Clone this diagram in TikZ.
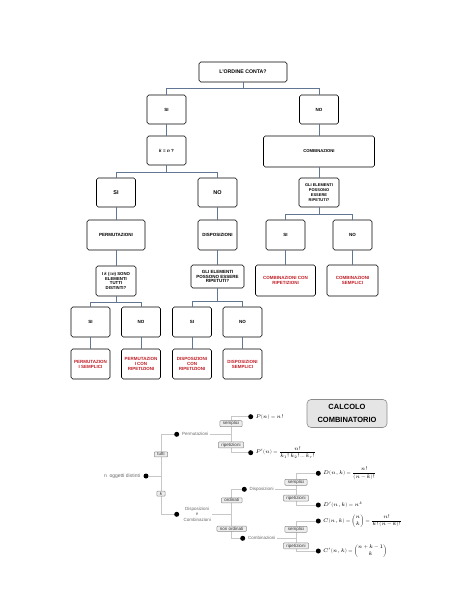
\documentclass[tikz,border=0pt]{standalone}
\usepackage{fontspec}
\usepackage{amsmath}
\usepackage{unicode-math}
\setmainfont{Liberation Sans}
\usepackage{xcolor}
\usepackage{tikz}
\usetikzlibrary{arrows.meta,positioning}
\definecolor{schemared}  {RGB}{192, 28,  36}
\definecolor{schemalink} {RGB}{ 96, 118, 146}
\definecolor{mapgray}    {RGB}{105, 105, 105}

\tikzset{
  box/.style={draw=black, line width=0.55pt, rounded corners=1.8pt, fill=white,
    align=center, inner sep=1pt, minimum width=39pt, minimum height=29pt,
    font=\fontsize{4.5}{4.9}\selectfont\bfseries},
  answer/.style={box, text=schemared},
  link/.style={draw=schemalink, line width=0.6pt},
  twig/.style={draw=black!22, line width=0.5pt},
  bullet/.style={circle, fill=black, inner sep=0pt, minimum size=5pt},
  tag/.style={draw=black!45, fill=black!7, rounded corners=0.8pt, inner xsep=3pt,
    inner ysep=0.9pt, font=\fontsize{4.5}{5}\selectfont, text=black!80},
  word/.style={font=\fontsize{4.5}{5.8}\selectfont, text=mapgray, inner sep=1pt},
  formula/.style={font=\fontsize{5.3}{6}\selectfont, inner sep=1pt},
  titlebox/.style={draw=black!45, fill=black!10, rounded corners=4pt, line width=0.6pt,
    minimum width=80pt, minimum height=28pt, align=center,
    font=\fontsize{7.5}{13}\selectfont\bfseries}
}

\begin{document}
\begin{tikzpicture}[x=1pt, y=-1pt]
      \useasboundingbox (0,0) rectangle (474,613);

      % albero delle domande
      \node[box, minimum width=88pt, minimum height=20pt, font=\fontsize{5.2}{6}\selectfont\bfseries] (ordine) at (243,72) {L'ORDINE CONTA?};
      \node[box] (si1) at (166.5,109.5) {SI};
      \node[box] (no1) at (319,109.5) {NO};
      \node[box] (kn) at (166.5,150.5) {\textit{k} = \textit{n} ?};
      \node[box, minimum width=111pt, minimum height=31pt, font=\fontsize{4.2}{5}\selectfont\bfseries] (comb) at (319,151.5) {COMBINAZIONI};
      \node[box, font=\fontsize{5.5}{6}\selectfont\bfseries] (si2) at (116,192.5) {SI};
      \node[box, font=\fontsize{5.5}{6}\selectfont\bfseries] (no2) at (217.5,192.5) {NO};
      \node[box, minimum width=40pt, font=\fontsize{4}{4.8}\selectfont\bfseries] (rip1) at (319,192.5) {GLI ELEMENTI\\POSSONO\\ESSERE\\RIPETUTI?};
      \node[box, minimum width=58pt, minimum height=30pt] (perm) at (116,235) {PERMUTAZIONI};
      \node[box, minimum height=30pt] (disp) at (217.5,235) {DISPOSIZIONI};
      \node[box, minimum height=30pt] (si3) at (285.5,235) {SI};
      \node[box, minimum height=30pt] (no3) at (352.5,235) {NO};
      \node[box, minimum width=40pt, minimum height=30pt, font=\fontsize{4.3}{4.8}\selectfont\bfseries] (distinti) at (116,281) {I \textit{k} (=\textit{n}) SONO\\ELEMENTI\\TUTTI\\DISTINTI?};
      \node[box, minimum width=53pt, minimum height=23pt, font=\fontsize{4.5}{4.8}\selectfont\bfseries] (rip2) at (217.5,276.5) {GLI ELEMENTI\\POSSONO ESSERE\\RIPETUTI?};
      \node[answer, minimum width=60pt, minimum height=31pt] (combrip) at (285.5,280.5) {COMBINAZIONI CON\\RIPETIZIONI};
      \node[answer, minimum width=51pt, minimum height=31pt] (combsem) at (352.5,280.5) {COMBINAZIONI\\SEMPLICI};
      \node[box, minimum height=30pt] (si4) at (90.5,322) {SI};
      \node[box, minimum height=30pt] (no4) at (141,322) {NO};
      \node[box, minimum height=30pt] (si5) at (192,322) {SI};
      \node[box, minimum height=30pt] (no5) at (242.5,322) {NO};
      \node[answer, minimum height=30pt] (permsem) at (90.5,364) {PERMUTAZION\\I SEMPLICI};
      \node[answer, minimum height=30pt] (permrip) at (141,364) {PERMUTAZION\\I CON\\RIPETIZIONI};
      \node[answer, minimum height=30pt] (disprip) at (192,364) {DISPOSIZIONI\\CON\\RIPETIZIONI};
      \node[answer, minimum height=30pt] (dispsem) at (242.5,364) {DISPOSIZIONI\\SEMPLICI};

      \draw[link] (ordine.south) -- ++(0,6) -| (si1.north);
      \draw[link] (ordine.south) -- ++(0,6) -| (no1.north);
      \draw[link] (si1) -- (kn);
      \draw[link] (no1) -- (comb);
      \draw[link] (kn.south) -- ++(0,7) -| (si2.north);
      \draw[link] (kn.south) -- ++(0,7) -| (no2.north);
      \draw[link] (comb) -- (rip1);
      \draw[link] (rip1.south) -- ++(0,7) -| (si3.north);
      \draw[link] (rip1.south) -- ++(0,7) -| (no3.north);
      \draw[link] (si2) -- (perm);
      \draw[link] (no2) -- (disp);
      \draw[link] (si3) -- (combrip);
      \draw[link] (no3) -- (combsem);
      \draw[link] (perm) -- (distinti);
      \draw[link] (disp) -- (rip2);
      \draw[link] (distinti.south) -- ++(0,6) -| (si4.north);
      \draw[link] (distinti.south) -- ++(0,6) -| (no4.north);
      \draw[link] (rip2.south) -- ++(0,13.5) -| (si5.north);
      \draw[link] (rip2.south) -- ++(0,13.5) -| (no5.north);
      \draw[link] (si4) -- (permsem);
      \draw[link] (no4) -- (permrip);
      \draw[link] (si5) -- (disprip);
      \draw[link] (no5) -- (dispsem);

      % mappa
      \node[titlebox] (calcolo) at (347,413.5) {CALCOLO\\COMBINATORIO};

      \node[bullet] (ndot) at (146,476) {};
      \node[word, left=2pt of ndot, font=\fontsize{5}{6}\selectfont] (ntxt) {n\enspace oggetti distinti};
      \coordinate (mainfork) at (161,476);
      \node[bullet] (permdot) at (176.7,434.3) {};
      \node[word, right=1.5pt of permdot] (permtxt) {Permutazioni};
      \node[bullet] (dcdot) at (176.7,514.3) {};
      \node[word, right=3pt of dcdot, align=center] (dctxt) {Disposizioni\\e\\Combinazioni};

      \coordinate (permfork) at (231,434.3);
      \node[bullet] (pdot) at (250.7,416.7) {};
      \node[formula, right=1pt of pdot] (pform) {$P(n)=n!$};
      \node[bullet] (ppdot) at (250.7,452.7) {};
      \node[formula, right=1pt of ppdot] (ppform) {$P'(n)=\dfrac{n!}{k_1!\,k_2!\dots k_r!}$};

      \coordinate (dcfork) at (231.7,514.3);
      \node[bullet] (dispdot) at (244.3,489.3) {};
      \node[word, right=1.5pt of dispdot] (disptxt) {Disposizioni};
      \node[bullet] (combdot) at (242.7,538.3) {};
      \node[word, right=1.5pt of combdot] (combtxt) {Combinazioni};

      \coordinate (dispfork) at (296,489.3);
      \coordinate (combfork) at (296,538.3);
      \node[bullet] (ddot) at (318.3,473.3) {};
      \node[formula, right=1pt of ddot] (dform) {$D(n,k)=\dfrac{n!}{(n-k)!}$};
      \node[bullet] (dpdot) at (318.3,505) {};
      \node[formula, right=1pt of dpdot] (dpform) {$D'(n,k)=n^k$};
      \node[bullet] (cdot) at (318.3,521) {};
      \node[formula, right=1pt of cdot] (cform) {$C(n,k)=\dbinom{n}{k}=\dfrac{n!}{k!\,(n-k)!}$};
      \node[bullet] (cpdot) at (318.3,551) {};
      \node[formula, right=1pt of cpdot] (cpform) {$C'(n,k)=\dbinom{n+k-1}{k}$};

      \draw[twig] (ndot) -- (mainfork);
      \draw[twig] (permdot) -| (mainfork) node[tag, pos=0.74] {tutti};
      \draw[twig] (dcdot) -| (mainfork) node[tag, pos=0.77] {\textit{k}};
      \draw[twig] (permtxt) -- (permfork);
      \draw[twig] (pdot) -| (permfork) node[tag, pos=0.7] {semplici};
      \draw[twig] (ppdot) -| (permfork) node[tag, pos=0.71] {ripetizioni};
      \draw[twig] (dctxt) -- (dcfork);
      \draw[twig] (dispdot) -| (dcfork) node[tag, pos=0.72] {ordinati};
      \draw[twig] (combdot) -| (dcfork) node[tag, pos=0.7] {non ordinati};
      \draw[twig] (disptxt) -- (dispfork);
      \draw[twig] (ddot) -| (dispfork) node[tag, pos=0.78] {semplici};
      \draw[twig] (dpdot) -| (dispfork) node[tag, pos=0.72] {ripetizioni};
      \draw[twig] (combtxt) -- (combfork);
      \draw[twig] (cdot) -| (combfork) node[tag, pos=0.74] {semplici};
      \draw[twig] (cpdot) -| (combfork) node[tag, pos=0.7] {ripetizioni};
    \end{tikzpicture}
\end{document}
